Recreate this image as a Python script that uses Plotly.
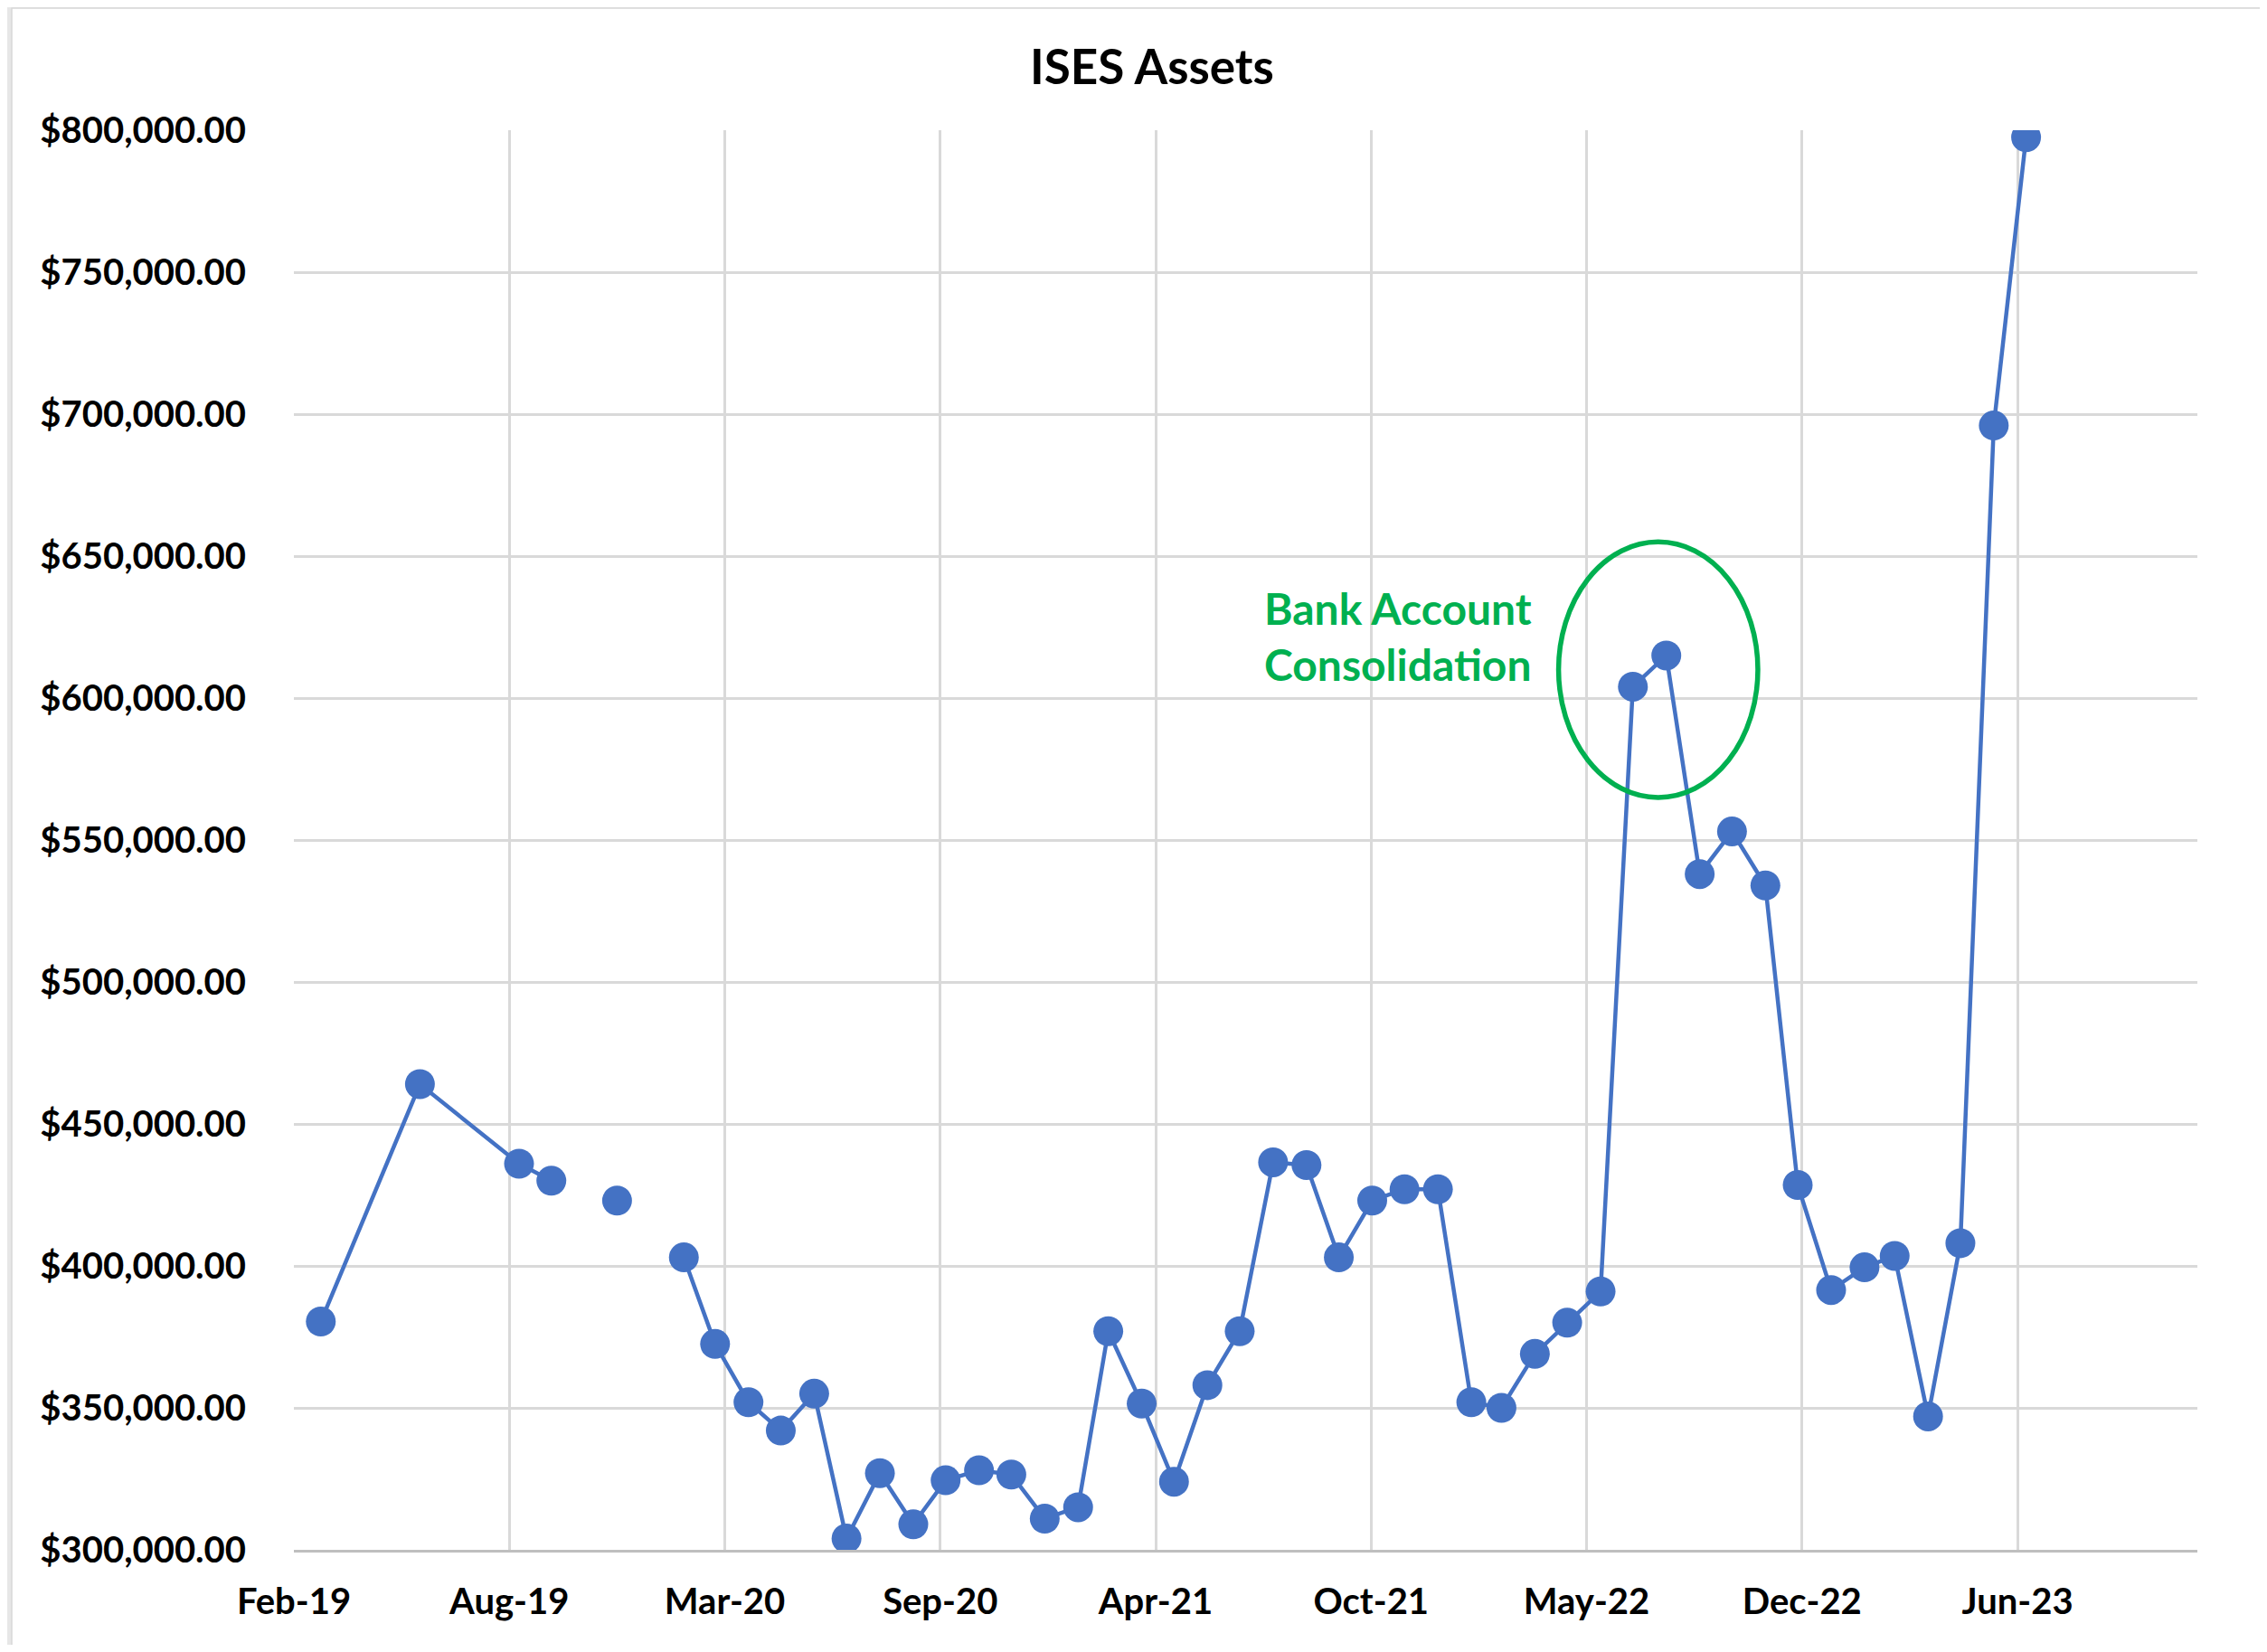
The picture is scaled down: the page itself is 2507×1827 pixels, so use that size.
import plotly.graph_objects as go
import pandas as pd

# ---------------- data ----------------
dates = [
    "2019-02-28", "2019-05-31", "2019-08-31", "2019-09-30", "2019-10-31", "2019-11-30", "2019-12-31",
    "2020-01-31", "2020-02-29", "2020-03-31", "2020-04-30", "2020-05-31", "2020-06-30", "2020-07-31",
    "2020-08-31", "2020-09-30", "2020-10-31", "2020-11-30", "2020-12-31",
    "2021-01-31", "2021-02-28", "2021-03-31", "2021-04-30", "2021-05-31", "2021-06-30", "2021-07-31",
    "2021-08-31", "2021-09-30", "2021-10-31", "2021-11-30", "2021-12-31",
    "2022-01-31", "2022-02-28", "2022-03-31", "2022-04-30", "2022-05-31", "2022-06-30", "2022-07-31",
    "2022-08-31", "2022-09-30", "2022-10-31", "2022-11-30", "2022-12-31",
    "2023-01-31", "2023-02-28", "2023-03-31", "2023-04-30", "2023-05-31", "2023-06-30",
]
assets = [
    380400, 464000, 436000, 430000, None, 423000, None,
    403000, 372500, 352000, 342000, 355000, 304000, 327000,
    309000, 324500, 328000, 326500, 311000,
    315000, 377000, 351500, 324000, 358000, 377000, 436500,
    435500, 403000, 423000, 427000, 427000,
    352000, 350000, 369000, 380000, 391000, 604000, 615000,
    538000, 553000, 534000, 428500, 391500,
    399500, 403500, 347000, 408000, 696000, 797500,
]
title_text = "ISES Assets"
note_text = "Bank Account<br>Consolidation"
x_axis_start = "2019-02-03"
x_axis_end = "2023-12-06"
tick_step_days = 200
y_min, y_max, y_step = 300000, 800000, 50000
circle_x = ["2022-04-22", "2022-10-24"]
circle_y = [565000, 655000]

# ---------------- layout geometry ----------------
# page body adds an 8px margin; figure coordinates below are page coords - 8
OFF = 8
W, H = 2491, 1811
L, R, T, B = 325 - OFF, 2430 - OFF, 144 - OFF, 1714 - OFF  # plot area in figure pixels
pw, ph = R - L, B - T


def px(xp):
    return (xp - OFF - L) / pw


def py(yp):
    return (B - (yp - OFF)) / ph


BLUE = "#4472C4"
GREEN = "#00B050"
GRID = "#D9D9D9"
FONT = "Lato"

fig = go.Figure()
fig.add_trace(go.Scatter(
    x=pd.to_datetime(dates), y=assets,
    mode="lines+markers",
    line=dict(color=BLUE, width=4.5),
    marker=dict(color=BLUE, size=33),
    connectgaps=False,
    showlegend=False,
))

fig.update_layout(
    width=W, height=H,
    margin=dict(l=L, r=W - R, t=T, b=H - B),
    paper_bgcolor="#E7E7E7",
    plot_bgcolor="white",
    showlegend=False,
    xaxis=dict(
        type="date",
        range=[x_axis_start, x_axis_end],
        tick0=x_axis_start,
        dtick=tick_step_days * 86400000,
        tickformat="%b-%y",
        showgrid=True, gridcolor=GRID, gridwidth=2.5,
        showline=True, linecolor="#BFBFBF", linewidth=3,
        zeroline=False,
        ticks="",
        ticklabelstandoff=20,
        tickfont=dict(family=FONT, size=40, color="black", weight="bold"),
    ),
    yaxis=dict(
        range=[y_min, y_max],
        dtick=y_step,
        tickformat="$,.2f",
        showgrid=True, gridcolor=GRID, gridwidth=2.5,
        showline=False, zeroline=False,
        ticks="",
        ticklabelstandoff=52,
        tickfont=dict(family=FONT, size=40, color="black", weight="bold"),
    ),
    shapes=[
        # white chart area (thin gray band left & top)
        dict(type="rect", xref="paper", yref="paper", layer="below",
             x0=px(13), x1=px(W + 40), y0=py(H + 40), y1=py(9),
             fillcolor="white", line=dict(color="#D8D8D8", width=1.5)),
        # highlight ellipse
        dict(type="circle", xref="x", yref="y",
             x0=circle_x[0], x1=circle_x[1], y0=circle_y[0], y1=circle_y[1],
             line=dict(color=GREEN, width=5.5)),
    ],
    annotations=[
        dict(text=title_text, xref="paper", yref="paper",
             x=px(1274), y=py(73), xanchor="center", yanchor="middle",
             showarrow=False,
             font=dict(family=FONT, size=53, color="black", weight="bold")),
        dict(text=note_text, xref="paper", yref="paper",
             x=px(1396), y=py(703), xanchor="left", yanchor="middle", align="left",
             showarrow=False,
             font=dict(family=FONT, size=48, color=GREEN, weight="bold")),
    ],
)

fig.write_html("out.html")
